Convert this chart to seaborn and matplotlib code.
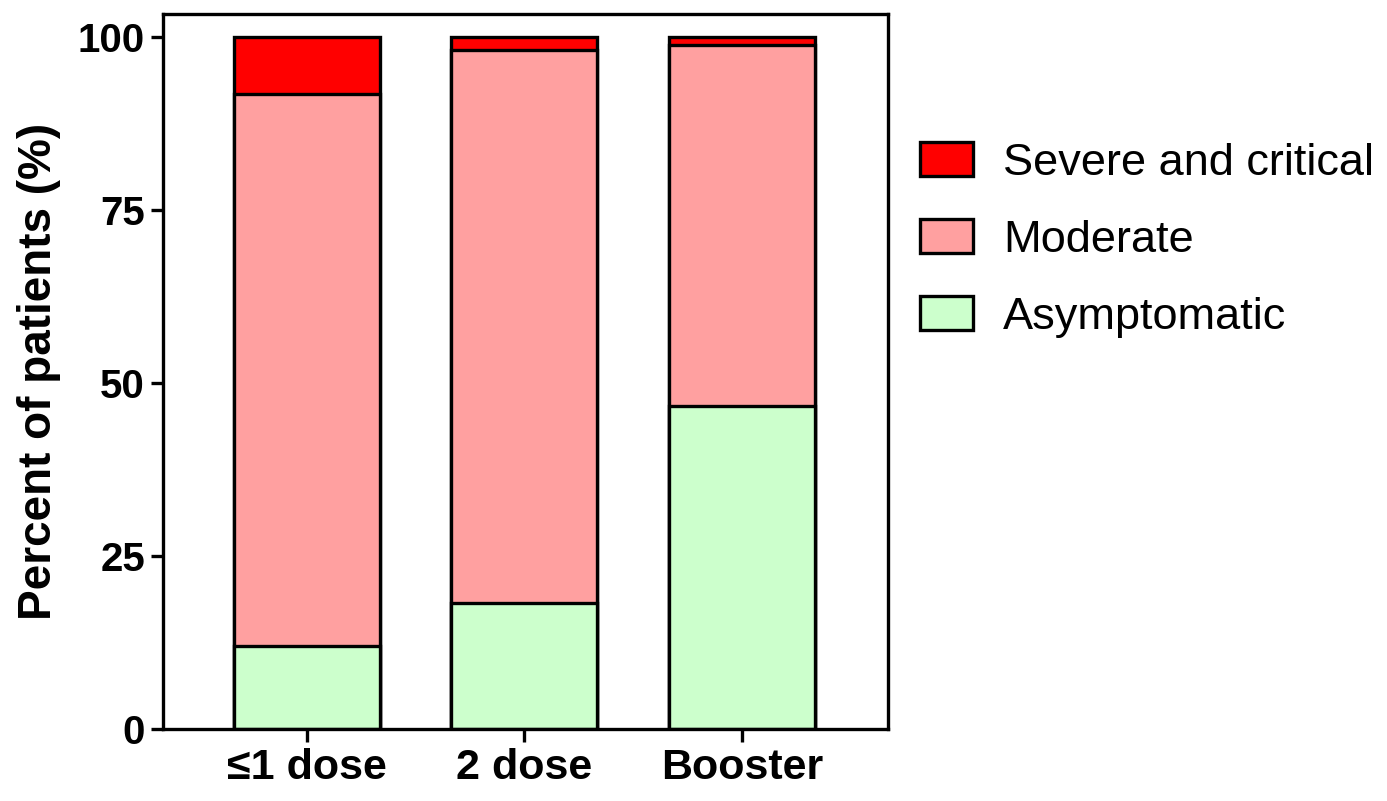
import matplotlib
matplotlib.use("Agg")
import matplotlib.pyplot as plt
import matplotlib.patches as mpatches
import seaborn as sns
import pandas as pd
import numpy as np

# Data (percent of patients)
groups = ["\u22641 dose", "2 dose", "Booster"]
asymptomatic = [12.0, 18.2, 46.6]
moderate = [79.7, 79.9, 52.2]
severe = [8.3, 1.9, 1.2]

series_names = ["Severe and critical", "Moderate", "Asymptomatic"]
series_colors = ["#FF0000", "#FFA0A0", "#CCFFCC"]

sns.set_theme(style="ticks")
plt.rcParams['font.family'] = ['Liberation Sans', 'DejaVu Sans']
plt.rcParams['text.color'] = 'black'
plt.rcParams['axes.labelcolor'] = 'black'
plt.rcParams['xtick.color'] = 'black'
plt.rcParams['ytick.color'] = 'black'

df = pd.DataFrame({
    "group": groups,
    "Asymptomatic": asymptomatic,
    "Moderate": moderate,
    "Severe and critical": severe,
})
df["cum_asym"] = df["Asymptomatic"]
df["cum_mod"] = df["cum_asym"] + df["Moderate"]
df["cum_sev"] = df["cum_mod"] + df["Severe and critical"]

fig = plt.figure(figsize=(13.87, 8.01), dpi=100)
ax = fig.add_axes([0.1175, 0.0899, 0.5225, 0.8926])

# Draw cumulative bars from tallest to shortest so they stack visually
for col, color in zip(["cum_sev", "cum_mod", "cum_asym"], series_colors):
    sns.barplot(data=df, x="group", y=col, color=color, edgecolor="black",
                linewidth=2.4, width=0.67, saturation=1, ax=ax, zorder=2)

ax.set_xlim(-0.66, 2.67)
ax.set_ylim(0, 103.3)
ax.set_yticks([0, 25, 50, 75, 100])
ax.set_xlabel("")
ax.set_ylabel("Percent of patients (%)", fontsize=33, fontweight="bold", labelpad=12)

for side in ["left", "right", "top", "bottom"]:
    ax.spines[side].set_linewidth(2.4)
    ax.spines[side].set_color("black")
ax.tick_params(axis="both", width=2.4, length=9)
ax.tick_params(axis="y", labelsize=29, pad=4)
ax.tick_params(axis="x", labelsize=31, pad=5)
for lab in ax.get_yticklabels() + ax.get_xticklabels():
    lab.set_fontweight("bold")

handles = [mpatches.Patch(facecolor=c, edgecolor="black", linewidth=2.4, label=n)
           for n, c in zip(series_names, series_colors)]
fig.legend(handles=handles, loc="upper left", bbox_to_anchor=(0.65, 0.845),
           frameon=False, fontsize=32.5, handlelength=1.18, handleheight=0.78,
           handletextpad=0.67, labelspacing=0.78, borderaxespad=0)

fig.savefig("out.png", dpi=100)
